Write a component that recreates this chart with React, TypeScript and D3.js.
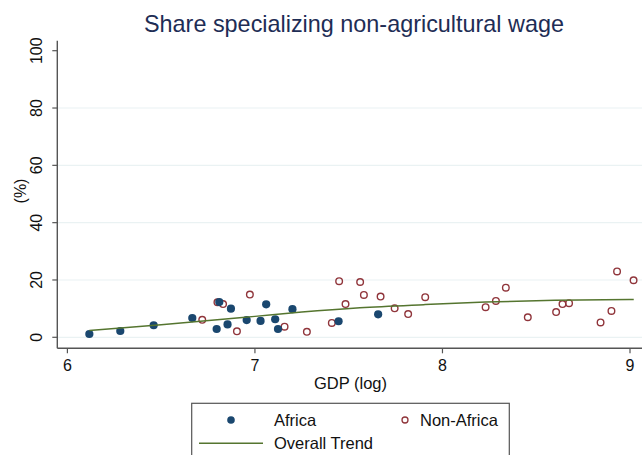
import React from "react";
import * as d3 from "d3";

const africaX = [6.117, 6.282, 6.46, 6.666, 6.81, 6.796, 6.872, 6.854, 6.956, 7.03, 7.06, 7.108, 7.123, 7.2, 7.446, 7.657];
const africaY = [1.15, 2.2, 4.2, 6.7, 12.3, 2.9, 10.0, 4.5, 6.0, 5.7, 11.5, 6.3, 2.9, 9.8, 5.6, 8.0];

const nonAfricaX = [6.719, 6.80, 6.83, 6.904, 6.973, 7.158, 7.277, 7.41, 7.449, 7.483, 7.561, 7.581, 7.67, 7.745, 7.817, 7.908, 8.23, 8.285, 8.338, 8.455, 8.606, 8.64, 8.675, 8.843, 8.901, 8.931, 9.019];
const nonAfricaY = [6.1, 12.2, 11.6, 2.1, 14.9, 3.7, 1.9, 5.0, 19.6, 11.6, 19.3, 14.8, 14.2, 10.1, 8.1, 14.0, 10.5, 12.7, 17.3, 7.0, 8.8, 11.6, 11.9, 5.2, 9.2, 23.0, 19.9];

const trendX = [6.117, 6.5, 7.0, 7.25, 7.56, 7.9, 8.23, 8.6, 9.02];
const trendY = [2.4, 4.4, 7.3, 8.8, 10.3, 11.4, 12.3, 12.9, 13.2];

const xTicks = [6, 7, 8, 9];
const yTicks = [0, 20, 40, 60, 80, 100];
const gridTicks = [0, 20, 40, 60, 80];

const title = "Share specializing non-agricultural wage";
const xLabel = "GDP (log)";
const yLabel = "(%)";
const legendLabels = ["Africa", "Non-Africa", "Overall Trend"];

const NAVY = "#1a476f";
const MAROON = "#90353b";
const GREEN = "#55752f";
const FONT = "'Liberation Sans', Arial, Helvetica, sans-serif";

export default function App() {
  const W = 642, H = 455;
  const x = d3.scaleLinear().domain([6, 9]).range([67.4, 630]);
  const y = d3.scaleLinear().domain([0, 100]).range([337.3, 50.7]);
  const axisLeft = 57.3, axisBottom = 348.3, axisTop = 40.7, plotRight = 642;

  const line = d3
    .line<number>()
    .x((_, i) => x(trendX[i]))
    .y((d) => y(d))
    .curve(d3.curveMonotoneX);

  return (
    <svg width={W} height={H} style={{ position: "absolute", left: 0, top: 0, background: "#fff" }} fontFamily={FONT}>
      <rect x={0} y={0} width={W} height={H} fill="#fff" />
      <text x={354} y={32} textAnchor="middle" fontSize={23.4} fill="#1e2d55">{title}</text>

      {gridTicks.map((t) => (
        <line key={"g" + t} x1={axisLeft} x2={plotRight} y1={y(t)} y2={y(t)} stroke="#eaf2f3" strokeWidth={1.2} />
      ))}

      {/* axes */}
      <line x1={axisLeft} x2={axisLeft} y1={axisTop} y2={axisBottom} stroke="#555" strokeWidth={1.4} />
      <line x1={axisLeft} x2={plotRight} y1={axisBottom} y2={axisBottom} stroke="#555" strokeWidth={1.4} />

      {yTicks.map((t) => (
        <g key={"y" + t}>
          <line x1={axisLeft - 5} x2={axisLeft} y1={y(t)} y2={y(t)} stroke="#555" strokeWidth={1.2} />
          <text transform={`translate(42,${y(t)}) rotate(-90)`} textAnchor="middle" fontSize={16} fill="#111">{t}</text>
        </g>
      ))}
      {xTicks.map((t) => (
        <g key={"x" + t}>
          <line x1={x(t)} x2={x(t)} y1={axisBottom} y2={axisBottom + 5} stroke="#555" strokeWidth={1.2} />
          <text x={x(t)} y={371} textAnchor="middle" fontSize={16} fill="#111">{t}</text>
        </g>
      ))}

      <text x={350.5} y={389} textAnchor="middle" fontSize={16.5} fill="#111">{xLabel}</text>
      <text transform={`translate(26,191) rotate(-90)`} textAnchor="middle" fontSize={16} fill="#111">{yLabel}</text>

      {nonAfricaX.map((v, i) => (
        <circle key={"n" + i} cx={x(v)} cy={y(nonAfricaY[i])} r={3.3} fill="none" stroke={MAROON} strokeWidth={1.4} />
      ))}
      {africaX.map((v, i) => (
        <circle key={"a" + i} cx={x(v)} cy={y(africaY[i])} r={4.1} fill={NAVY} />
      ))}
      <path d={line(trendY) || ""} fill="none" stroke={GREEN} strokeWidth={1.5} />

      {/* legend */}
      <rect x={191.7} y={403.3} width={317.6} height={70} fill="#fff" stroke="#555" strokeWidth={1.2} />
      <circle cx={231} cy={420} r={3.8} fill={NAVY} />
      <text x={274} y={426} fontSize={16.5} fill="#111">{legendLabels[0]}</text>
      <circle cx={405} cy={420} r={3} fill="none" stroke={MAROON} strokeWidth={1.3} />
      <text x={420} y={426} fontSize={16.5} fill="#111">{legendLabels[1]}</text>
      <line x1={199} x2={263} y1={443.3} y2={443.3} stroke={GREEN} strokeWidth={1.5} />
      <text x={274} y={449} fontSize={16.5} fill="#111">{legendLabels[2]}</text>
    </svg>
  );
}
